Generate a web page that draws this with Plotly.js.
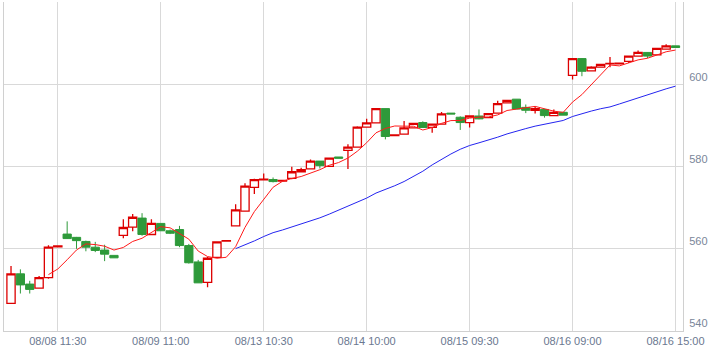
<!DOCTYPE html>
<html>
<head>
<meta charset="utf-8">
<script src="https://cdn.plot.ly/plotly-3.0.1.min.js"></script>
<style>html,body{margin:0;padding:0;background:#fff;}#chart{width:724px;height:351px;}</style>
</head>
<body>
<div id="chart"></div>
<script>
const openP  = [546.5,553.7,551.2,550.2,552.8,560.3,563.4,562.6,561.6,560.2,559.5,558.2,563.1,565.1,567.3,563.3,566.0,564.2,564.5,560.6,556.6,551.6,557.7,561.7,565.4,569.0,574.8,576.6,576.7,576.3,577.0,578.6,579.3,581.2,579.9,582.2,583.8,584.6,589.5,590.5,594.0,587.4,587.8,589.3,590.6,589.4,590.2,592.9,591.9,590.6,592.2,591.8,592.9,595.4,596.3,594.3,593.6,593.8,592.3,593.1,602.1,606.2,603.2,604.1,604.9,604.9,605.5,606.8,607.7,607.1,608.5,609.3];
const highP  = [555.6,554.8,552.0,553.2,560.7,560.5,566.5,562.7,561.8,561.5,560.8,558.2,567.0,568.3,568.5,567.0,566.0,564.5,565.4,561.0,557.1,557.8,561.5,561.8,570.7,575.8,576.9,578.2,577.2,576.5,579.8,579.6,581.6,581.2,582.0,582.2,585.3,589.7,591.5,594.0,594.0,587.6,591.0,590.4,590.9,590.3,593.2,592.9,592.1,592.3,593.8,592.8,595.9,596.0,596.3,595.0,594.5,594.0,593.8,593.1,606.3,606.3,604.3,604.8,606.6,605.1,606.9,608.2,607.8,608.7,609.7,609.3];
const lowP   = [546.5,548.9,548.9,550.2,552.5,560.3,562.2,559.8,559.2,559.0,556.8,557.6,562.4,564.1,563.0,563.3,564.2,563.4,560.2,556.2,551.5,550.4,557.7,561.7,565.4,569.0,573.2,576.5,576.0,576.3,576.8,578.4,579.3,579.4,579.8,581.9,579.3,584.6,589.4,590.5,586.5,587.4,587.8,589.3,589.3,588.1,590.2,592.7,588.8,589.4,591.4,591.8,592.9,595.4,593.9,592.9,592.8,591.8,592.3,592.4,601.1,601.9,603.2,604.1,604.1,604.9,605.1,606.8,606.3,607.1,608.5,608.9];
const closeP = [553.7,551.0,549.9,552.8,560.2,560.5,562.3,561.8,560.2,559.4,558.5,557.6,565.0,567.5,563.3,566.0,564.2,563.6,560.6,556.4,551.5,557.5,561.5,561.8,569.3,575.1,576.7,576.8,576.2,576.5,578.6,579.1,581.2,580.1,581.9,581.9,584.6,589.5,590.5,594.0,587.2,587.6,589.3,590.4,589.4,590.2,592.7,592.7,590.6,592.2,591.5,592.8,595.2,596.0,593.9,593.6,594.0,592.3,593.1,592.4,606.2,603.1,604.1,604.8,605.0,605.1,606.8,607.7,606.8,608.7,609.3,608.9];
const tickIdx  = [5,16,27,38,49,60,71];
const tickText = ["08/08 11:30","08/09 11:00","08/13 10:30","08/14 10:00","08/15 09:30","08/16 09:00","08/16 15:00"];
const yTicks   = [540,560,580,600];
const maShort = 5, maLong = 25;

const xs = closeP.map((_, i) => i);
function movingAvg(arr, n) {
  const out = [];
  for (let i = 0; i < arr.length; i++) {
    if (i < n - 1) { out.push(null); continue; }
    let s = 0; for (let k = i - n + 1; k <= i; k++) s += arr[k];
    out.push(s / n);
  }
  return out;
}

const traces = [
  {type:'candlestick', x:xs, open:openP, high:highP, low:lowP, close:closeP,
   increasing:{line:{color:'#dd0000', width:1.3}, fillcolor:'#ffffff'},
   decreasing:{line:{color:'#2e9a3a', width:1}, fillcolor:'#2e9a3a'},
   whiskerwidth:0, showlegend:false, hoverinfo:'skip'},
  {type:'scatter', mode:'lines', x:xs, y:movingAvg(closeP, maShort),
   line:{color:'#ff1a1a', width:1}, showlegend:false, hoverinfo:'skip'},
  {type:'scatter', mode:'lines', x:xs, y:movingAvg(closeP, maLong),
   line:{color:'#2424f0', width:1}, showlegend:false, hoverinfo:'skip'}
];

const layout = {
  width:724, height:351,
  margin:{l:4, r:41, t:2, b:20, pad:0},
  paper_bgcolor:'#ffffff', plot_bgcolor:'#ffffff',
  showlegend:false, boxgap:0.12, boxgroupgap:0,
  font:{family:'Liberation Sans, Arial, sans-serif', size:11, color:'#6b7890'},
  xaxis:{type:'linear', range:[-0.75, 71.8], tickmode:'array', tickvals:tickIdx, ticktext:tickText,
         showgrid:true, gridcolor:'#d9d9d9', gridwidth:1, zeroline:false,
         showline:true, linecolor:'#d0d0d0', linewidth:1, ticks:'',
         rangeslider:{visible:false}, fixedrange:true,
         tickfont:{family:'Liberation Sans, Arial, sans-serif', size:11, color:'#6b7890'}},
  yaxis:{side:'right', range:[539.76, 620.0], tickmode:'array', tickvals:yTicks,
         showgrid:true, gridcolor:'#d9d9d9', gridwidth:1, zeroline:false,
         showline:true, mirror:true, linecolor:'#d0d0d0', linewidth:1, ticks:'',
         ticklabelshift:-7, ticklabelstandoff:3, fixedrange:true,
         tickfont:{family:'Liberation Sans, Arial, sans-serif', size:11, color:'#7a8699'}}
};

Plotly.newPlot('chart', traces, layout, {staticPlot:true, displayModeBar:false});
</script>
</body>
</html>
